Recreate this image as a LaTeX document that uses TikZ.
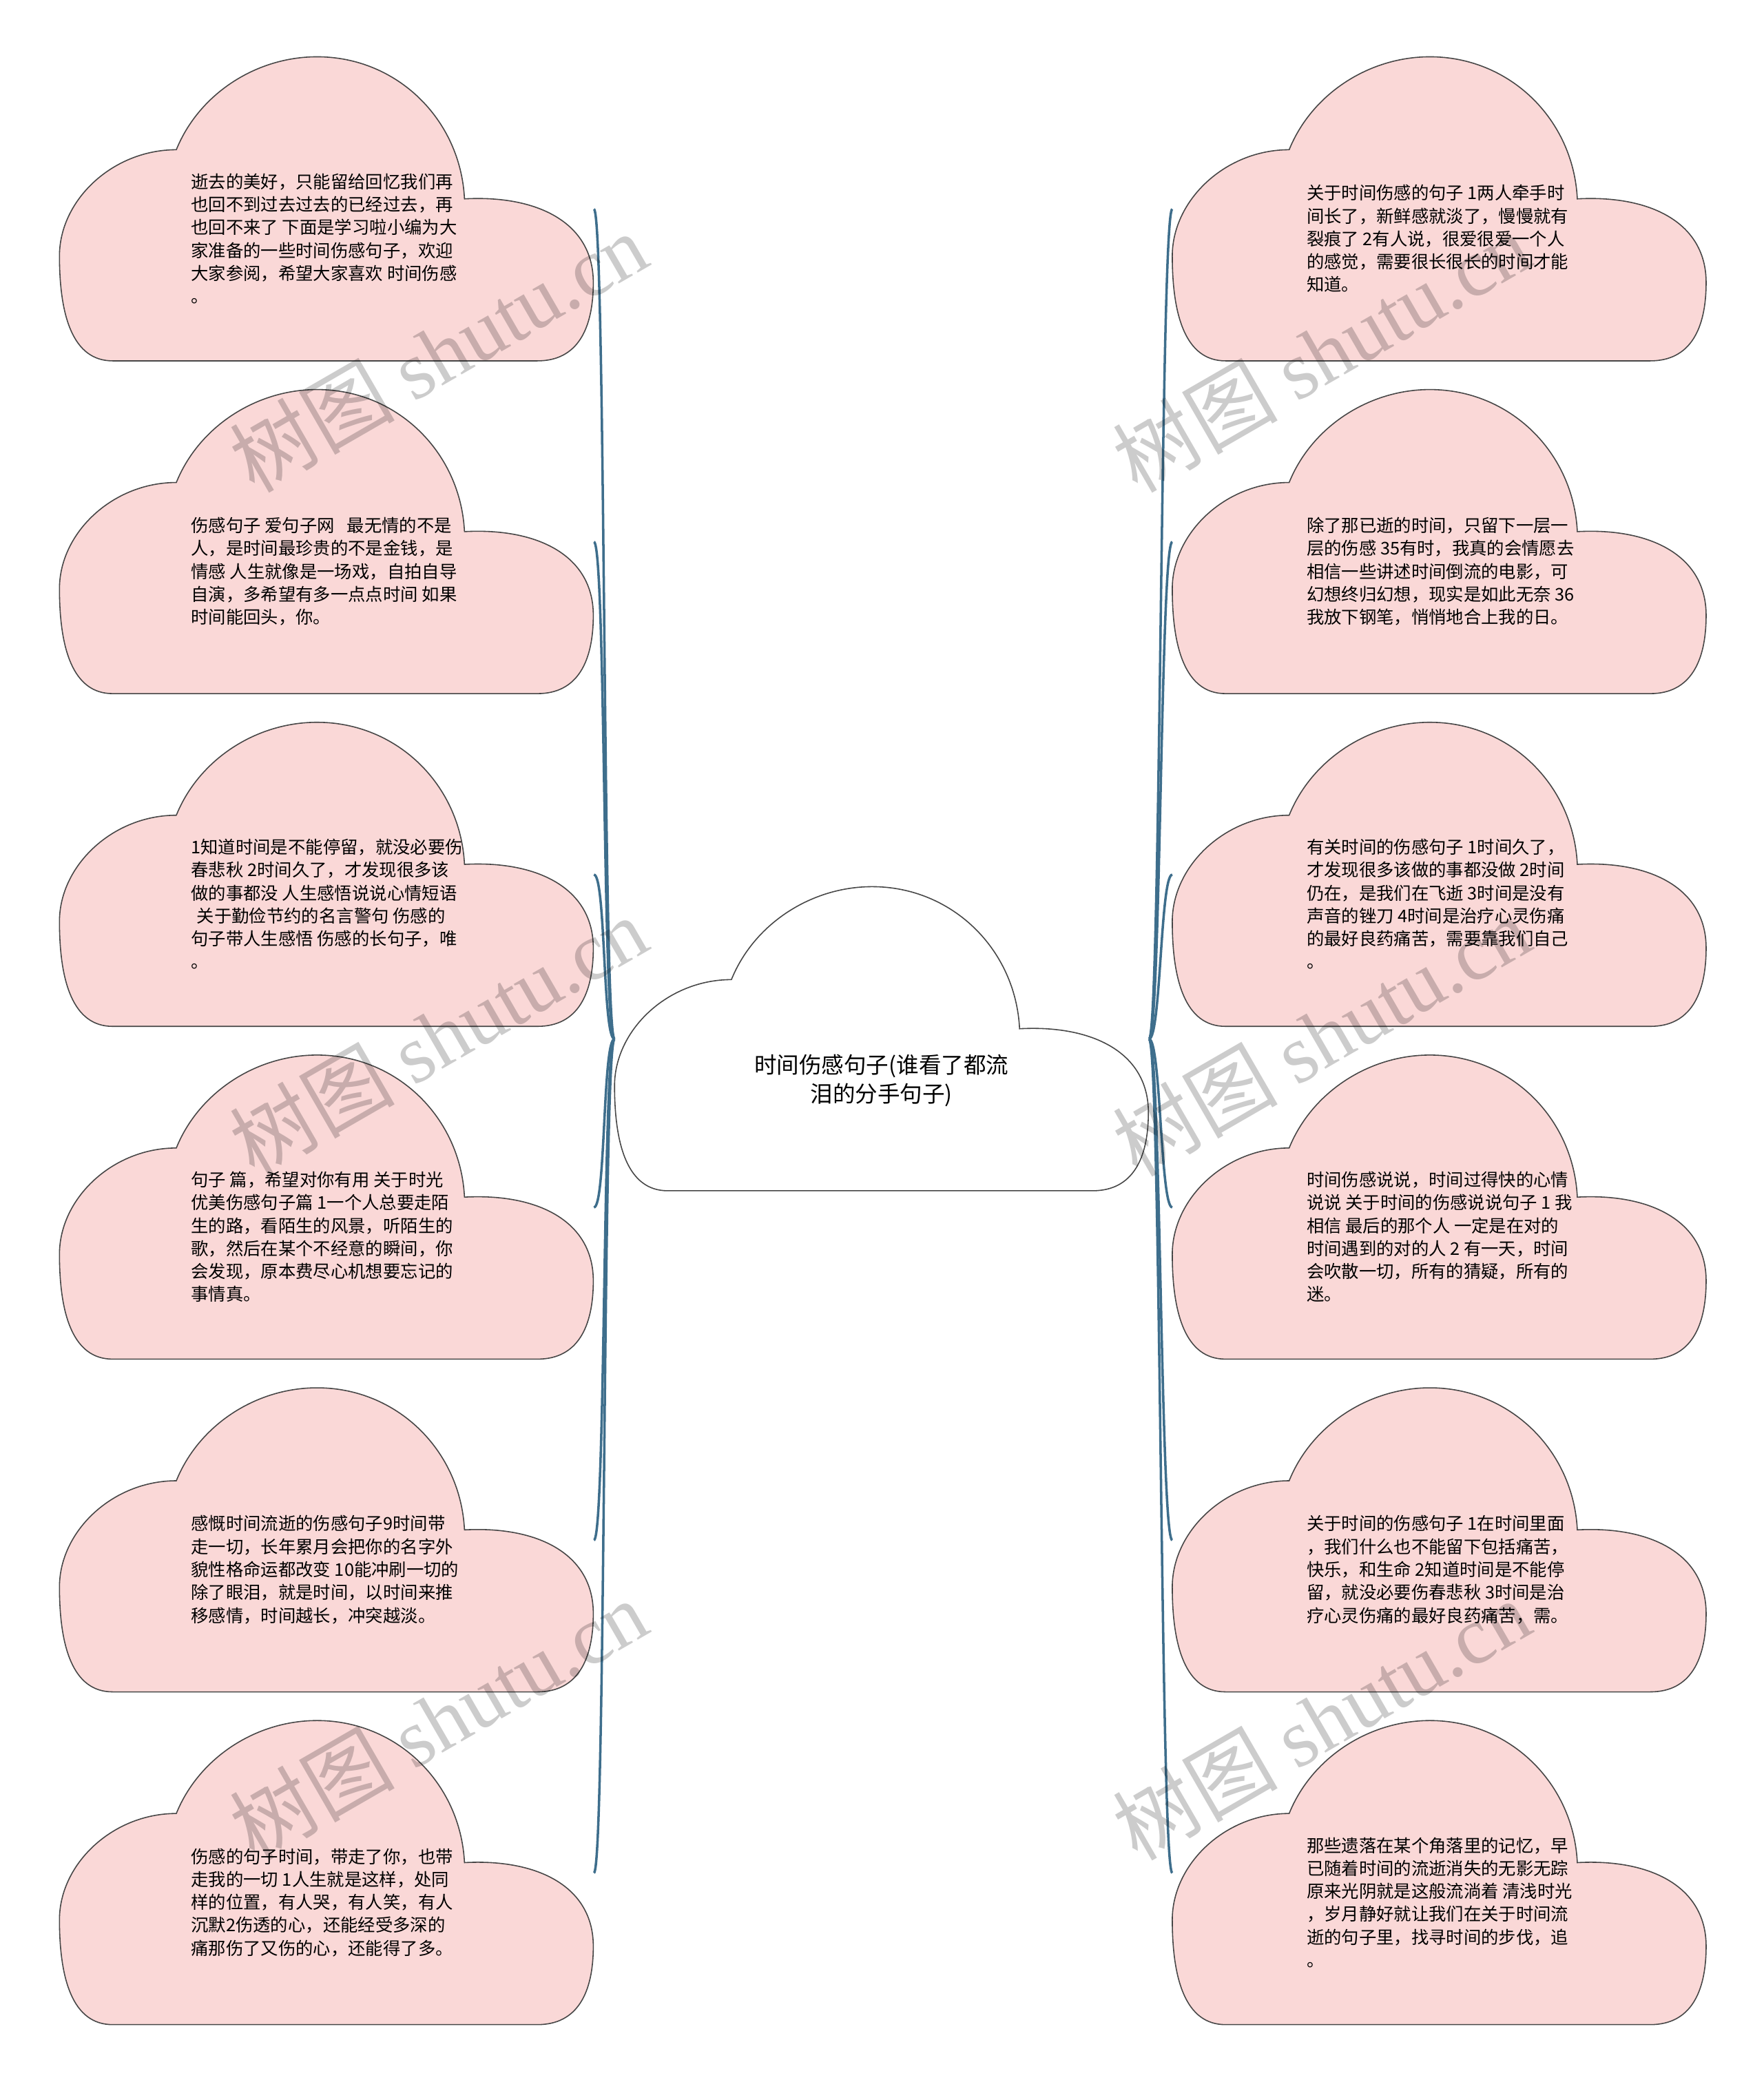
\documentclass[tikz,border=0pt]{standalone}
\usepackage{fontspec}
\setmainfont{Noto Sans CJK SC}
\newfontfamily\wmserif{Liberation Serif}
\usetikzlibrary{calc}
\definecolor{cloudpink}{RGB}{250,216,215}
\definecolor{cloudline}{RGB}{70,70,70}
\definecolor{linkblue}{RGB}{62,110,140}

% outline of one cloud round the box node #1, filled with #2
\newcommand{\cloudoutline}[2]{%
  \draw[cloudedge, fill=#2, shift={(#1.north west)}]
    (88,70) .. controls (105,28) and (148,0) .. (194,0)
    .. controls (254,0) and (302,47) .. (305,107)
    .. controls (360,104) and (402,125) .. (402,170)
    .. controls (402,205) and (390,229) .. (360,229)
    -- (40,229)
    .. controls (10,229) and (0,195) .. (0,150)
    .. controls (0,108) and (40,70) .. cycle;
}

\begin{document}
\begin{tikzpicture}[
    x=0.385mm, y=-0.385mm,
    cloudbox/.style={rectangle, draw=none, inner sep=0pt,
        minimum width=154.8mm, minimum height=88.2mm},
    cloudedge/.style={draw=cloudline, line width=0.9pt},
    leaf/.style={anchor=west, align=left, inner sep=0pt,
        font=\fontsize{14.4}{18.9}\selectfont},
    hubtext/.style={align=center, inner sep=0pt,
        font=\fontsize{18.5}{24}\selectfont},
    link/.style={draw=linkblue, line width=2pt},
    watermark/.style={rotate=30, text=black, text opacity=0.2,
        font=\fontsize{68}{70}\selectfont}
]
    \useasboundingbox (0,0) rectangle (1328,1568);
    \fill[white] (0,0) rectangle (1328,1568);

    % centre cloud and the cloud boxes
    \node[cloudbox] (hub) at (664,782.5) {};
    \node[cloudbox] (l1) at (246,157.5) {};
    \node[cloudbox] (l2) at (246,408.1) {};
    \node[cloudbox] (l3) at (246,658.7) {};
    \node[cloudbox] (l4) at (246,909.3) {};
    \node[cloudbox] (l5) at (246,1159.9) {};
    \node[cloudbox] (l6) at (246,1410.5) {};
    \node[cloudbox] (r1) at (1084,157.5) {};
    \node[cloudbox] (r2) at (1084,408.1) {};
    \node[cloudbox] (r3) at (1084,658.7) {};
    \node[cloudbox] (r4) at (1084,909.3) {};
    \node[cloudbox] (r5) at (1084,1159.9) {};
    \node[cloudbox] (r6) at (1084,1410.5) {};

    % connectors
    \draw[link] (hub.west) .. controls +(-9,0) and +(9,0) .. (l1.east);
    \draw[link] (hub.west) .. controls +(-9,0) and +(9,0) .. (l2.east);
    \draw[link] (hub.west) .. controls +(-9,0) and +(9,0) .. (l3.east);
    \draw[link] (hub.west) .. controls +(-9,0) and +(9,0) .. (l4.east);
    \draw[link] (hub.west) .. controls +(-9,0) and +(9,0) .. (l5.east);
    \draw[link] (hub.west) .. controls +(-9,0) and +(9,0) .. (l6.east);
    \draw[link] (hub.east) .. controls +(9,0) and +(-9,0) .. (r1.west);
    \draw[link] (hub.east) .. controls +(9,0) and +(-9,0) .. (r2.west);
    \draw[link] (hub.east) .. controls +(9,0) and +(-9,0) .. (r3.west);
    \draw[link] (hub.east) .. controls +(9,0) and +(-9,0) .. (r4.west);
    \draw[link] (hub.east) .. controls +(9,0) and +(-9,0) .. (r5.west);
    \draw[link] (hub.east) .. controls +(9,0) and +(-9,0) .. (r6.west);

    % cloud outlines
    \cloudoutline{hub}{white}
    \cloudoutline{l1}{cloudpink}
    \cloudoutline{l2}{cloudpink}
    \cloudoutline{l3}{cloudpink}
    \cloudoutline{l4}{cloudpink}
    \cloudoutline{l5}{cloudpink}
    \cloudoutline{l6}{cloudpink}
    \cloudoutline{r1}{cloudpink}
    \cloudoutline{r2}{cloudpink}
    \cloudoutline{r3}{cloudpink}
    \cloudoutline{r4}{cloudpink}
    \cloudoutline{r5}{cloudpink}
    \cloudoutline{r6}{cloudpink}

    % texts
    \node[hubtext] (hubt) at ($(hub.north west)+(201,146)$)
        {时间伤感句子(谁看了都流\\泪的分手句子)};

    \node[leaf] (l1t) at ($(l1.north west)+(99,137)$)
        {逝去的美好，只能留给回忆我们再\\也回不到过去过去的已经过去，再\\也回不来了 下面是学习啦小编为大\\家准备的一些时间伤感句子，欢迎\\大家参阅，希望大家喜欢 时间伤感\\。};
    \node[leaf] (l2t) at ($(l2.north west)+(99,137)$)
        {伤感句子 爱句子网\hspace{0.7em}最无情的不是\\人，是时间最珍贵的不是金钱，是\\情感 人生就像是一场戏，自拍自导\\自演，多希望有多一点点时间 如果\\时间能回头，你。};
    \node[leaf] (l3t) at ($(l3.north west)+(99,137)$)
        {1知道时间是不能停留，就没必要伤\\春悲秋 2时间久了，才发现很多该\\做的事都没 人生感悟说说心情短语\\\hspace*{0.33em}关于勤俭节约的名言警句 伤感的\\句子带人生感悟 伤感的长句子，唯\\。};
    \node[leaf] (l4t) at ($(l4.north west)+(99,137)$)
        {句子 篇，希望对你有用 关于时光\\优美伤感句子篇 1一个人总要走陌\\生的路，看陌生的风景，听陌生的\\歌，然后在某个不经意的瞬间，你\\会发现，原本费尽心机想要忘记的\\事情真。};
    \node[leaf] (l5t) at ($(l5.north west)+(99,137)$)
        {感慨时间流逝的伤感句子9时间带\\走一切，长年累月会把你的名字外\\貌性格命运都改变 10能冲刷一切的\\除了眼泪，就是时间，以时间来推\\移感情，时间越长，冲突越淡。};
    \node[leaf] (l6t) at ($(l6.north west)+(99,137)$)
        {伤感的句子时间，带走了你，也带\\走我的一切 1人生就是这样，处同\\样的位置，有人哭，有人笑，有人\\沉默2伤透的心，还能经受多深的\\痛那伤了又伤的心，还能得了多。};

    \node[leaf] (r1t) at ($(r1.north west)+(101,137)$)
        {关于时间伤感的句子 1两人牵手时\\间长了，新鲜感就淡了，慢慢就有\\裂痕了 2有人说，很爱很爱一个人\\的感觉，需要很长很长的时间才能\\知道。};
    \node[leaf] (r2t) at ($(r2.north west)+(101,137)$)
        {除了那已逝的时间，只留下一层一\\层的伤感 35有时，我真的会情愿去\\相信一些讲述时间倒流的电影，可\\幻想终归幻想，现实是如此无奈 36\\我放下钢笔，悄悄地合上我的日。};
    \node[leaf] (r3t) at ($(r3.north west)+(101,137)$)
        {有关时间的伤感句子 1时间久了，\\才发现很多该做的事都没做 2时间\\仍在，是我们在飞逝 3时间是没有\\声音的锉刀 4时间是治疗心灵伤痛\\的最好良药痛苦，需要靠我们自己\\。};
    \node[leaf] (r4t) at ($(r4.north west)+(101,137)$)
        {时间伤感说说，时间过得快的心情\\说说 关于时间的伤感说说句子 1 我\\相信 最后的那个人 一定是在对的\\时间遇到的对的人 2 有一天，时间\\会吹散一切，所有的猜疑，所有的\\迷。};
    \node[leaf] (r5t) at ($(r5.north west)+(101,137)$)
        {关于时间的伤感句子 1在时间里面\\，我们什么也不能留下包括痛苦，\\快乐，和生命 2知道时间是不能停\\留，就没必要伤春悲秋 3时间是治\\疗心灵伤痛的最好良药痛苦，需。};
    \node[leaf] (r6t) at ($(r6.north west)+(101,137)$)
        {那些遗落在某个角落里的记忆，早\\已随着时间的流逝消失的无影无踪\\原来光阴就是这般流淌着 清浅时光\\，岁月静好就让我们在关于时间流\\逝的句子里，找寻时间的步伐，追\\。};

    % watermarks
    \node[watermark] (w1) at (330,265) {树图 {\wmserif shutu.cn}};
    \node[watermark] (w2) at (330,780) {树图 {\wmserif shutu.cn}};
    \node[watermark] (w3) at (330,1295) {树图 {\wmserif shutu.cn}};
    \node[watermark] (w4) at (995,265) {树图 {\wmserif shutu.cn}};
    \node[watermark] (w5) at (995,780) {树图 {\wmserif shutu.cn}};
    \node[watermark] (w6) at (995,1295) {树图 {\wmserif shutu.cn}};
\end{tikzpicture}
\end{document}
